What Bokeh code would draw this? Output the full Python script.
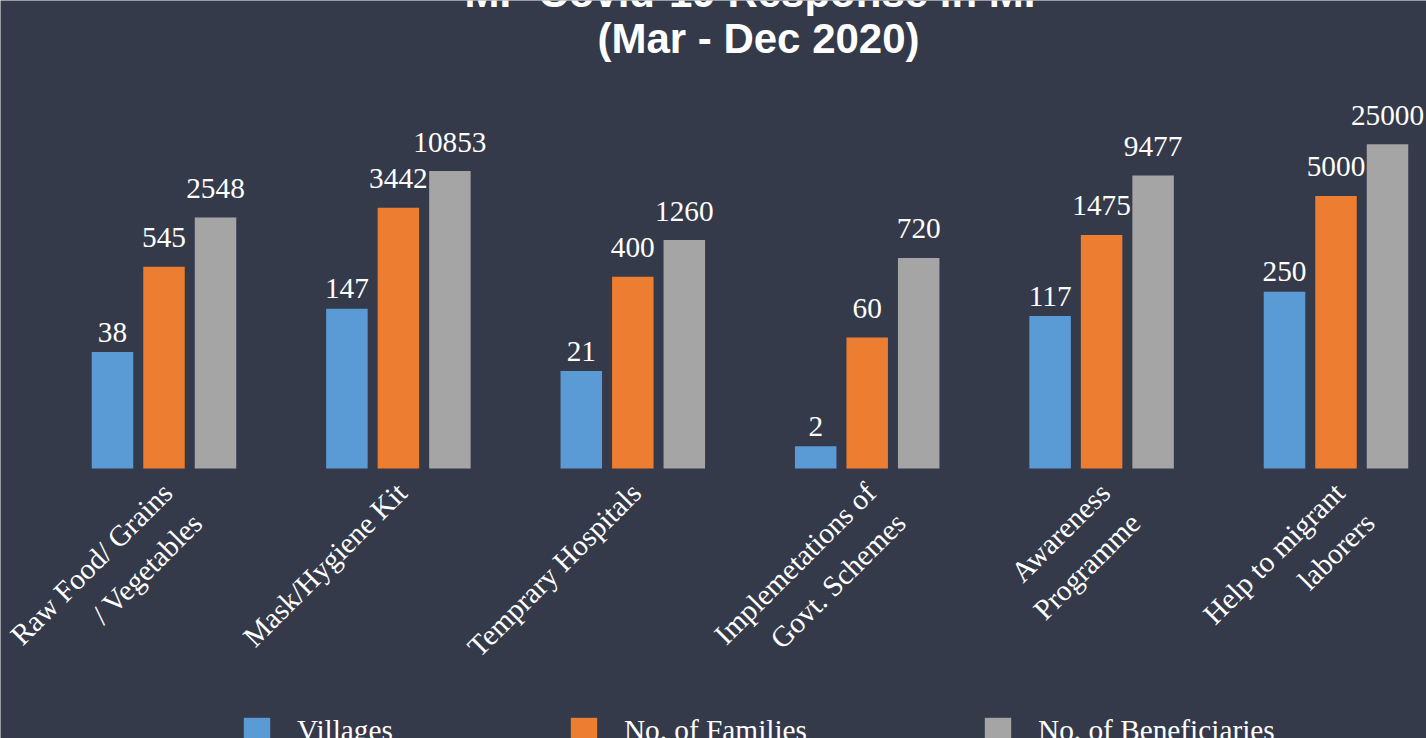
import math
from bokeh.plotting import figure
from bokeh.models import ColumnDataSource, Range1d, Label, Legend, LegendItem
from bokeh.core.properties import value
from bokeh.embed import file_html
from bokeh.resources import INLINE

# ---- data ----
categories = [
    "Raw Food/ Grains\n/ Vegetables",
    "Mask/Hygiene Kit",
    "Temprary Hospitals",
    "Implemetations of\nGovt. Schemes",
    "Awareness\nProgramme",
    "Help to migrant\nlaborers",
]
villages = [38, 147, 21, 2, 117, 250]
families = [545, 3442, 400, 60, 1475, 5000]
beneficiaries = [2548, 10853, 1260, 720, 9477, 25000]
series_names = ["Villages", "No. of Families", "No. of Beneficiaries"]
title_lines = ["MP Covid-19 Response in MP", "(Mar - Dec 2020)"]

# ---- style ----
BG = "#343A4A"
COLORS = ["#5B9BD5", "#ED7D31", "#A5A5A5"]
SERIF = "Liberation Serif"
SANS = "Liberation Sans"
FS = "29.3px"
W, H = 1426, 738
PX_PER_CAT = 234.4
PX_PER_DECADE = 73.7
BASE_Y = 468  # canvas px of value 1

x0 = 3 - 749.5 / PX_PER_CAT
x1 = x0 + W / PX_PER_CAT
ylog_top = BASE_Y / PX_PER_DECADE
ylog_bot = -(H - BASE_Y) / PX_PER_DECADE

p = figure(width=W, height=H, output_backend="svg", toolbar_location=None,
           x_range=Range1d(x0, x1), y_range=Range1d(10 ** ylog_bot, 10 ** ylog_top),
           y_axis_type="log", x_axis_location=None, y_axis_location=None,
           min_border=0, background_fill_color=BG, border_fill_color=BG)
p.outline_line_color = None
p.grid.visible = False

centers = [i + 0.5 for i in range(len(categories))]
offsets = [-51.5 / PX_PER_CAT, 0.0, 51.5 / PX_PER_CAT]
bar_w = 41.5 / PX_PER_CAT
label_gaps = [-20, -29, -29]

renderers = []
for vals, off, col, gap in zip([villages, families, beneficiaries], offsets, COLORS, label_gaps):
    src = ColumnDataSource(dict(x=[c + off for c in centers], top=vals,
                                bottom=[1] * len(vals), lbl=[str(v) for v in vals]))
    r = p.vbar(x="x", top="top", bottom="bottom", width=bar_w, source=src,
               fill_color=col, line_color=None)
    renderers.append(r)
    p.text(x="x", y="top", text="lbl", source=src, text_align="center",
           text_baseline="alphabetic", y_offset=gap, text_color="#FFFFFF",
           text_font=value(SERIF), text_font_size=FS)

# category labels
csrc = ColumnDataSource(dict(x=centers, y=[1] * len(centers), t=categories))
p.text(x="x", y="y", text="t", source=csrc, angle=45, angle_units="deg",
       anchor="top_right", text_align="right", x_offset=-8, y_offset=8,
       text_color="#FFFFFF", text_font=value(SERIF), text_font_size=FS,
       text_line_height=1.33)

# title
p.add_layout(Label(x=758, y=H + 8, x_units="screen", y_units="screen", text=title_lines[0],
                   text_align="center", text_baseline="alphabetic", text_color="#FFFFFF",
                   text_font=SANS, text_font_style="bold", text_font_size="42px"))
p.add_layout(Label(x=758, y=H - 38, x_units="screen", y_units="screen", text=title_lines[1],
                   text_align="center", text_baseline="alphabetic", text_color="#FFFFFF",
                   text_font=SANS, text_font_style="bold", text_font_size="42px"))

legend = Legend(items=[LegendItem(label=n, renderers=[r]) for n, r in zip(series_names, renderers)],
                orientation="horizontal", location=(240, -9), spacing=174,
                glyph_width=33, glyph_height=33, label_standoff=24, padding=0, margin=0,
                border_line_color=None, background_fill_alpha=0,
                label_text_color="#FFFFFF", label_text_font=SERIF, label_text_font_size=FS)
p.add_layout(legend)

open("out.html", "w").write(file_html(p, INLINE))
